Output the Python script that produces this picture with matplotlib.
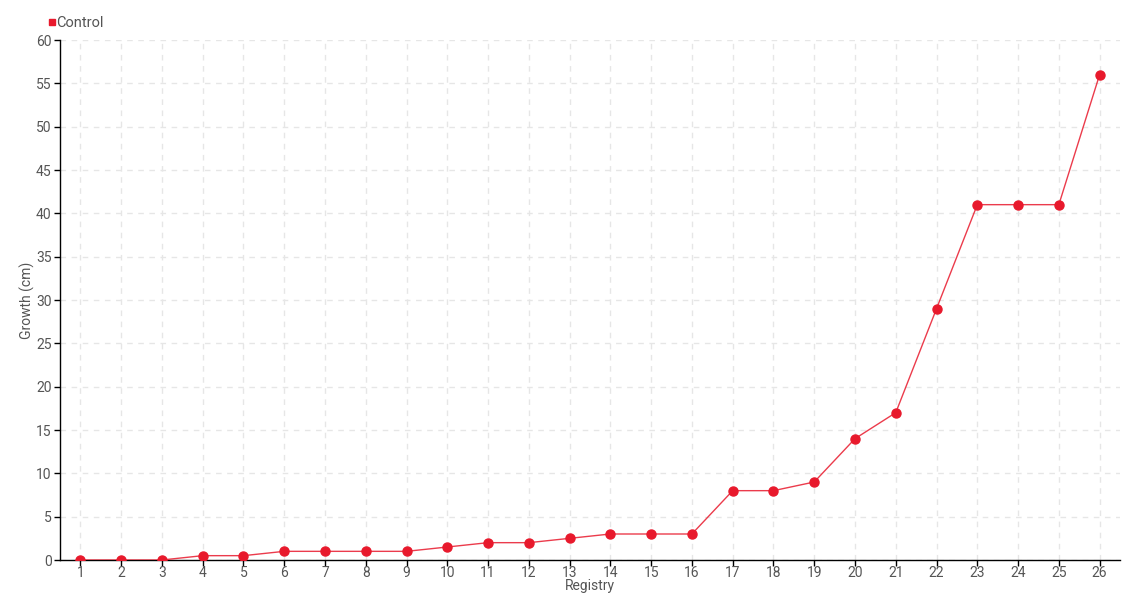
import matplotlib
matplotlib.use("Agg")
import matplotlib.pyplot as plt

registry = list(range(1, 27))
growth = [0, 0, 0, 0.5, 0.5, 1, 1, 1, 1, 1.5, 2, 2, 2.5, 3, 3, 3,
          8, 8, 9, 14, 17, 29, 41, 41, 41, 56]

red = "#e8192c"
txt = "#555555"

plt.rcParams['font.family'] = ['Roboto', 'DejaVu Sans']

fig = plt.figure(figsize=(11.4, 6), dpi=100)
ax = fig.add_axes([60/1140, 40/600, 1060/1140, 520/600])

ax.plot(registry, growth, color=red, lw=1, alpha=0.85, zorder=3)
ax.plot(registry, growth, 'o', color=red, ms=6.5, zorder=4, label="Control")

ax.set_xlim(0.5, 26.5)
ax.set_ylim(0, 60)
ax.set_xticks(registry)
ax.set_yticks(range(0, 61, 5))
ax.grid(True, color="#e6e6e6", ls=(0, (4, 4)), lw=1)
ax.set_axisbelow(True)

for s in ["top", "right"]:
    ax.spines[s].set_visible(False)
for s in ["left", "bottom"]:
    ax.spines[s].set_color("black")
    ax.spines[s].set_linewidth(1)

ax.tick_params(axis="both", length=4, width=1, colors="black",
               labelcolor=txt, labelsize=10)
ax.tick_params(axis="y", pad=2)
ax.tick_params(axis="x", pad=0)

ax.set_xlabel("Registry", color=txt, fontsize=10)
ax.set_ylabel("Growth (cm)", color=txt, fontsize=10)
ax.xaxis.set_label_coords(0.5, -0.037)
ax.yaxis.set_label_coords(-0.0235, 0.5)

ax.legend(loc="lower left", bbox_to_anchor=(-0.02, 1.0), frameon=False,
          handlelength=0.4, handletextpad=0.1, markerscale=0.6,
          fontsize=10.5, labelcolor=txt, borderaxespad=0.3)
leg = ax.get_legend()
leg.legend_handles[0].set_marker("s")

fig.savefig("out.png", dpi=100)
